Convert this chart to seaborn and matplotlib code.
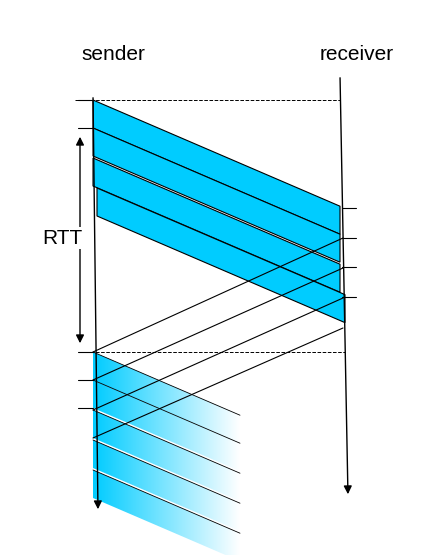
import numpy as np
import matplotlib
matplotlib.use("Agg")
import matplotlib.pyplot as plt
import seaborn as sns
from matplotlib.patches import Polygon
from matplotlib.colors import LinearSegmentedColormap

sns.set_theme(style="white")
plt.rcParams['font.family'] = ['Liberation Sans', 'DejaVu Sans']

# diagram data (pixel space)
labels = ["sender", "receiver"]
send_start = [100, 128, 158, 188]      # packet top y at sender
packet_h = 28
slope = 0.43                           # y drop per x px
recv_ack_y = [238, 268, 298, 328]      # ack start at receiver
send_ack_y = [352, 380, 410, 438]      # ack arrival at sender
new_start = [352, 380, 410, 440, 470]  # new packets (fading)
recv_ticks = [208, 238, 267, 297]
send_ticks = [100, 128, 352, 380, 408]
xs, xr, xfade = 93, 340, 240
cyan = "#00CCFF"

fig = plt.figure(figsize=(4.29, 5.55), dpi=100)
ax = fig.add_axes([0, 0, 1, 1])
ax.set_xlim(0, 429); ax.set_ylim(555, 0); ax.axis("off")

# packets
for i, y0 in enumerate(send_start):
    x0 = xs + (4 if i == 3 else 0)
    x1 = xr + (5 if i == 3 else 0)
    d = slope * (x1 - x0)
    ax.add_patch(Polygon([(x0, y0), (x1, y0 + d), (x1, y0 + d + packet_h), (x0, y0 + packet_h)],
                         closed=True, fc=cyan, ec="black", lw=0.8, zorder=2))

# fading new packets
cmap = LinearSegmentedColormap.from_list("f", [cyan, "white"])
grad = np.linspace(0, 1, 256).reshape(1, -1)
for y0 in new_start:
    d = slope * (xfade - xs)
    poly = Polygon([(xs, y0), (xfade, y0 + d), (xfade, y0 + d + packet_h), (xs, y0 + packet_h)],
                   closed=True, fc="none", ec="none")
    ax.add_patch(poly)
    im = ax.imshow(grad, cmap=cmap, extent=(xs, xfade, y0 + d + packet_h, y0), aspect="auto", zorder=2)
    im.set_clip_path(poly)
    ax.plot([xs, xfade], [y0, y0 + d], color="black", lw=0.6, zorder=3)

# acks
for yr, ys in zip(recv_ack_y, send_ack_y):
    ax.plot([xr + 3, xs], [yr, ys], color="black", lw=0.8, zorder=3)

# timelines
ax.annotate("", xy=(98, 512), xytext=(93, 95), arrowprops=dict(arrowstyle="-|>", color="black", lw=1), zorder=4)
ax.annotate("", xy=(348, 497), xytext=(340, 75), arrowprops=dict(arrowstyle="-|>", color="black", lw=1), zorder=4)

# dashed
ax.plot([75, 340], [100, 100], ls="--", color="black", lw=0.7)
ax.plot([80, 345], [352, 352], ls="--", color="black", lw=0.7)

for y in send_ticks:
    ax.plot([78, 93], [y, y], color="black", lw=0.8)
for y in recv_ticks:
    ax.plot([342, 356], [y, y], color="black", lw=0.8)

# RTT
ax.annotate("", xy=(80, 134), xytext=(80, 346), arrowprops=dict(arrowstyle="<|-|>", color="black", lw=1))
ax.text(62, 238, "RTT", fontsize=15, ha="center", va="center", color="black",
        bbox=dict(fc="white", ec="none", pad=1))

ax.text(113, 55, labels[0], fontsize=15, ha="center", va="center", color="black")
ax.text(357, 55, labels[1], fontsize=15, ha="center", va="center", color="black")

fig.savefig("out.png", dpi=100)
